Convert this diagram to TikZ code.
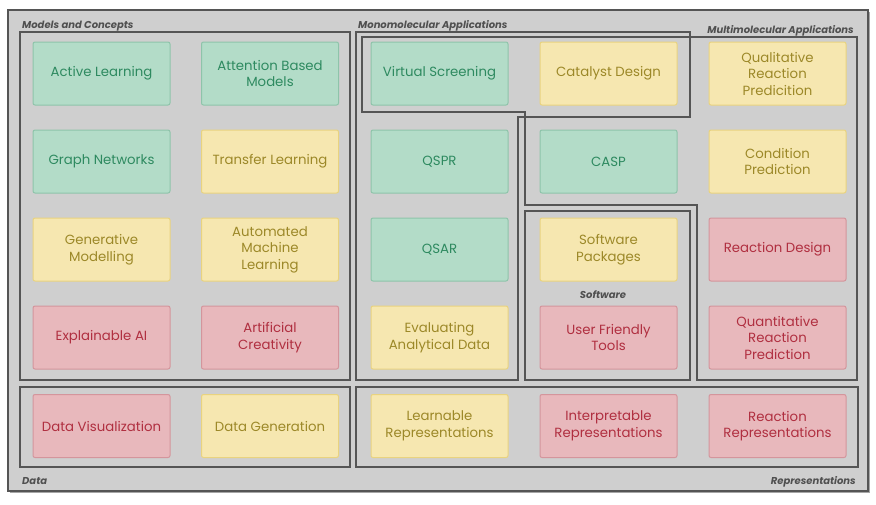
\documentclass[tikz,border=0pt]{standalone}
\usepackage{fontspec}
\setmainfont{Poppins}
\usepackage{tikz}
\usetikzlibrary{positioning}

\definecolor{bggray}{HTML}{CFCFCF}
\definecolor{framegray}{HTML}{555555}
\definecolor{taggray}{HTML}{505050}
\definecolor{mintfill}{HTML}{B3DCC8}
\definecolor{mintdraw}{HTML}{8EC4AA}
\definecolor{minttext}{HTML}{2E8A60}
\definecolor{sandfill}{HTML}{F6E7B0}
\definecolor{sanddraw}{HTML}{E9D37F}
\definecolor{sandtext}{HTML}{9C8828}
\definecolor{rosefill}{HTML}{E8B8BC}
\definecolor{rosedraw}{HTML}{D4959C}
\definecolor{rosetext}{HTML}{B02F40}

\begin{document}
\begin{tikzpicture}[
    x=1pt, y=-1pt,
    card/.style={rectangle, rounded corners=2pt, line width=1pt,
                 minimum width=137pt, minimum height=63pt, align=center,
                 font=\fontsize{13.3}{16.5}\selectfont},
    mint/.style={card, fill=mintfill, draw=mintdraw, text=minttext},
    sand/.style={card, fill=sandfill, draw=sanddraw, text=sandtext},
    rose/.style={card, fill=rosefill, draw=rosedraw, text=rosetext},
    region/.style={draw=framegray, line width=1.1pt},
    tag/.style={font=\fontsize{10}{12}\selectfont\bfseries\itshape,
                text=taggray, inner sep=0pt}
]
\useasboundingbox (0,0) rectangle (876,504);
\fill[white] (0,0) rectangle (876,504);
\fill[black!35] (10,12) rectangle (870,493);
\filldraw[fill=bggray, draw=framegray, line width=1.2pt] (8,10) rectangle (868,491);

% group frames
\draw[region] (20,32) rectangle (350,380);
\draw[region] (356,32) -- (690,32) -- (690,117) -- (518,117) -- (518,380) -- (356,380) -- cycle;
\draw[region] (362,37) -- (857,37) -- (857,380) -- (697,380) -- (697,205) -- (525,205)
    -- (525,112) -- (362,112) -- cycle;
\draw[region] (525,211) rectangle (690,380);
\draw[region] (20,387) rectangle (350,467);
\draw[region] (356,387) rectangle (858,467);

\node[tag, anchor=base west] (tmodels) at (22,28) {Models and Concepts};
\node[tag, anchor=base west] (tmono) at (358,28) {Monomolecular Applications};
\node[tag, anchor=base east] (tmulti) at (854,33) {Multimolecular Applications};
\node[tag] (tsoft) at (603,295) {Software};
\node[tag, anchor=base west] (tdata) at (22,484) {Data};
\node[tag, anchor=base east] (trepr) at (856,484) {Representations};

% models and concepts
\node[mint] (active) at (101.5,73.5) {Active Learning};
\node[mint] (attention) at (270,73.5) {Attention Based\\Models};
\node[mint] (graph) at (101.5,161.5) {Graph Networks};
\node[sand] (transfer) at (270,161.5) {Transfer Learning};
\node[sand] (generative) at (101.5,249.5) {Generative\\Modelling};
\node[sand] (automl) at (270,249.5) {Automated\\Machine\\Learning};
\node[rose] (explain) at (101.5,337.5) {Explainable AI};
\node[rose] (creativity) at (270,337.5) {Artificial\\Creativity};

% applications
\node[mint] (screening) at (439.5,73.5) {Virtual Screening};
\node[sand] (catalyst) at (608.5,73.5) {Catalyst Design};
\node[sand] (qualitative) at (777.5,73.5) {Qualitative\\Reaction\\Predicition};
\node[mint] (qspr) at (439.5,161.5) {QSPR};
\node[mint] (casp) at (608.5,161.5) {CASP};
\node[sand] (condition) at (777.5,161.5) {Condition\\Prediction};
\node[mint] (qsar) at (439.5,249.5) {QSAR};
\node[sand] (packages) at (608.5,249.5) {Software\\Packages};
\node[rose] (rdesign) at (777.5,249.5) {Reaction Design};
\node[sand] (analytical) at (439.5,337.5) {Evaluating\\Analytical Data};
\node[rose] (friendly) at (608.5,337.5) {User Friendly\\Tools};
\node[rose] (quantitative) at (777.5,337.5) {Quantitative\\Reaction\\Prediction};

% data and representations
\node[rose] (dvis) at (101.5,426) {Data Visualization};
\node[sand] (dgen) at (270,426) {Data Generation};
\node[sand] (learnable) at (439.5,426) {Learnable\\Representations};
\node[rose] (interpretable) at (608.5,426) {Interpretable\\Representations};
\node[rose] (rrepr) at (777.5,426) {Reaction\\Representations};
\end{tikzpicture}
\end{document}
